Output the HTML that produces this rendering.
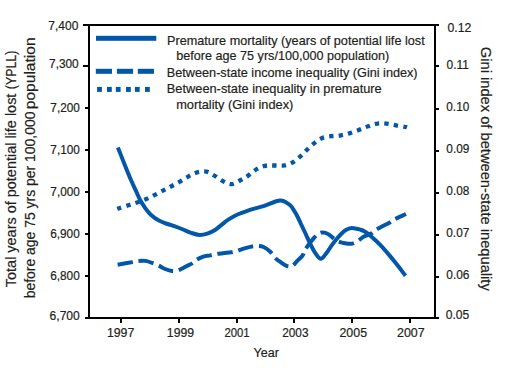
<!DOCTYPE html>
<html><head><meta charset="utf-8"><style>
html,body{margin:0;padding:0;background:#fff;width:515px;height:371px;overflow:hidden}
svg{display:block}
text{font-family:"Liberation Sans",sans-serif;fill:#231f20;stroke:#231f20;stroke-width:0.2px}
</style></head><body>
<svg width="515" height="371" viewBox="0 0 515 371">
<g fill="#000">
<rect x="83" y="24" width="356" height="2"/>
<rect x="85" y="317" width="354" height="2"/>
<rect x="88" y="24" width="2" height="295"/>
<rect x="434" y="24" width="2" height="295"/>
<rect x="83" y="65" width="5" height="2"/>
<rect x="436" y="65" width="3" height="2"/>
<rect x="85" y="107" width="3" height="2"/>
<rect x="436" y="108" width="3" height="2"/>
<rect x="85" y="149" width="3" height="2"/>
<rect x="436" y="150" width="3" height="2"/>
<rect x="85" y="191" width="3" height="2"/>
<rect x="436" y="192" width="3" height="2"/>
<rect x="85" y="233" width="3" height="2"/>
<rect x="436" y="234" width="3" height="2"/>
<rect x="85" y="275" width="3" height="2"/>
<rect x="436" y="276" width="3" height="2"/>
<rect x="120" y="319" width="2" height="4"/>
<rect x="178" y="319" width="2" height="4"/>
<rect x="236" y="319" width="2" height="4"/>
<rect x="293" y="319" width="2" height="4"/>
<rect x="351" y="319" width="2" height="4"/>
<rect x="409" y="319" width="2" height="4"/>
</g>
<g fill="none" stroke="#0357a8" stroke-width="4" stroke-linecap="butt" stroke-linejoin="round">
<path d="M117.9,147.4 C119.0,150.1 122.0,158.0 124.2,163.4 C126.4,168.8 128.9,175.2 131.0,180.0 C133.1,184.8 135.0,188.7 136.5,192.0 C138.0,195.3 138.6,197.2 140.0,199.8 C141.4,202.4 143.3,205.3 144.9,207.6 C146.5,209.9 148.1,211.9 149.7,213.6 C151.3,215.3 153.0,216.6 154.6,217.8 C156.2,219.0 157.8,219.9 159.4,220.7 C161.0,221.5 162.7,222.2 164.3,222.8 C165.9,223.4 167.3,223.9 169.1,224.5 C170.9,225.1 172.7,225.6 175.0,226.4 C177.3,227.2 180.4,228.4 183.1,229.5 C185.8,230.6 188.5,232.0 191.2,232.9 C193.9,233.8 196.8,234.8 199.5,234.9 C202.2,235.0 204.7,234.4 207.3,233.6 C209.9,232.8 212.6,231.3 215.0,229.9 C217.4,228.5 219.3,226.6 221.5,224.9 C223.7,223.2 225.6,221.3 228.3,219.6 C231.0,217.9 234.2,216.0 237.5,214.5 C240.8,213.0 244.7,211.7 248.0,210.6 C251.3,209.5 254.1,208.8 257.2,207.9 C260.2,207.0 263.2,206.2 266.3,205.1 C269.4,204.0 273.1,202.2 275.5,201.5 C277.9,200.8 279.2,200.5 281.0,200.6 C282.8,200.7 284.3,201.4 286.0,202.3 C287.7,203.2 289.3,204.0 291.0,206.0 C292.7,208.0 294.8,211.7 296.4,214.5 C298.0,217.3 299.1,220.0 300.5,223.0 C301.9,226.0 303.4,229.1 305.0,232.5 C306.6,235.9 308.3,239.8 310.0,243.2 C311.7,246.5 313.2,250.0 315.0,252.6 C316.8,255.2 318.8,258.8 320.8,258.8 C322.8,258.8 325.1,254.6 326.9,252.4 C328.7,250.2 330.1,247.6 331.7,245.4 C333.3,243.2 335.0,240.9 336.6,239.0 C338.2,237.1 339.8,235.2 341.4,233.7 C343.0,232.2 344.5,230.8 346.3,229.8 C348.1,228.9 349.6,228.0 352.0,228.0 C354.4,228.0 358.4,229.1 360.6,229.7 C362.8,230.3 363.4,230.7 365.0,231.7 C366.6,232.7 367.9,233.5 370.4,235.7 C372.9,237.9 376.9,241.4 380.2,244.8 C383.5,248.2 387.1,252.5 390.1,256.1 C393.2,259.7 395.9,263.3 398.5,266.6 C401.1,269.9 404.3,274.2 405.5,275.7"/>
<path d="M117.6,264.7 C120.1,264.3 129.0,262.7 132.5,262.1 C136.0,261.5 136.2,261.1 138.4,260.9 C140.6,260.7 143.3,260.5 145.7,260.9 C148.1,261.3 150.6,262.4 152.7,263.2 C154.8,264.0 156.4,264.5 158.5,265.5 C160.6,266.5 162.8,268.1 165.1,269.0 C167.4,269.9 169.9,270.8 172.1,271.0 C174.3,271.2 176.0,270.9 178.3,270.2 C180.6,269.4 183.6,267.6 185.8,266.5 C188.0,265.4 189.9,264.7 191.7,263.6 C193.4,262.5 194.4,261.2 196.3,260.0 C198.2,258.8 201.0,257.4 203.3,256.6 C205.6,255.8 208.1,255.9 210.3,255.4 C212.5,254.9 214.4,254.3 216.7,253.9 C219.0,253.5 221.9,253.4 224.3,253.1 C226.7,252.8 229.1,252.6 231.3,252.2 C233.5,251.8 235.5,251.3 237.7,250.7 C239.9,250.0 242.2,249.0 244.5,248.3 C246.8,247.6 249.0,247.0 251.3,246.6 C253.6,246.2 256.1,245.9 258.1,246.0 C260.1,246.1 261.5,246.1 263.5,247.0 C265.5,247.9 268.4,249.9 270.3,251.7 C272.2,253.5 273.3,256.1 275.1,257.9 C276.9,259.7 279.4,261.3 281.2,262.6 C283.0,263.9 284.6,265.0 286.0,265.6 C287.4,266.2 288.4,266.5 289.5,266.5 C290.6,266.5 291.5,266.6 292.8,265.6 C294.1,264.6 295.9,262.3 297.5,260.6 C299.1,258.9 301.4,257.2 302.7,255.3 C304.0,253.4 303.5,252.1 305.4,249.2 C307.3,246.3 311.8,240.4 314.2,237.7 C316.6,235.0 318.1,233.8 319.8,233.0 C321.5,232.2 323.0,232.3 324.5,232.6 C326.0,232.9 327.5,233.7 329.0,234.6 C330.5,235.5 331.8,237.1 333.3,238.2 C334.8,239.3 336.1,240.4 338.0,241.2 C339.9,242.0 342.6,242.8 345.0,243.2 C347.4,243.6 350.1,244.0 352.2,243.6 C354.3,243.2 355.7,242.2 357.7,241.0 C359.7,239.8 361.8,237.7 364.0,236.5 C366.2,235.3 369.1,234.7 371.1,233.6 C373.2,232.5 373.2,231.5 376.3,229.7 C379.4,227.9 386.3,224.4 389.4,222.7 C392.5,220.9 391.9,220.6 394.7,219.2 C397.5,217.8 404.1,214.9 406.0,214.0" stroke-dasharray="15.4 5.8"/>
<path d="M117.2,208.7 C117.5,208.6 117.4,208.8 119.3,208.2 C121.2,207.6 125.4,206.2 128.4,205.3 C131.4,204.4 134.2,203.5 137.1,202.5 C140.0,201.5 142.9,200.5 145.9,199.2 C148.9,197.9 151.9,196.4 154.8,194.9 C157.7,193.4 160.6,191.9 163.4,190.4 C166.2,188.9 169.1,187.5 171.9,186.0 C174.7,184.5 177.6,183.0 180.4,181.4 C183.2,179.8 185.8,177.8 188.6,176.3 C191.4,174.8 194.2,173.2 197.2,172.4 C200.2,171.6 203.5,171.1 206.5,171.7 C209.5,172.3 212.2,174.4 215.0,176.0 C217.8,177.6 220.5,180.1 223.3,181.4 C226.2,182.8 229.2,184.3 232.1,184.1 C235.0,183.9 238.1,181.4 240.8,180.0 C243.5,178.6 245.8,177.2 248.4,175.4 C251.0,173.7 253.3,171.1 256.1,169.5 C258.9,167.9 261.9,166.5 265.0,165.8 C268.1,165.1 271.2,165.6 274.4,165.5 C277.6,165.4 280.9,166.0 284.0,165.5 C287.1,165.0 290.1,163.8 292.8,162.3 C295.5,160.8 297.9,158.5 300.3,156.4 C302.7,154.3 304.7,151.9 307.0,149.7 C309.3,147.5 311.8,145.0 314.3,143.1 C316.8,141.2 319.4,139.2 322.2,138.0 C325.0,136.8 328.3,136.6 331.4,136.2 C334.5,135.8 337.9,135.8 341.0,135.3 C344.1,134.8 347.1,134.0 350.2,133.1 C353.2,132.2 356.3,130.9 359.3,129.8 C362.3,128.7 365.1,127.3 368.1,126.3 C371.1,125.3 374.1,124.0 377.2,123.6 C380.2,123.1 383.3,123.3 386.4,123.6 C389.5,123.9 392.9,124.8 396.0,125.4 C399.1,126.0 403.3,126.7 405.1,127.0 C406.9,127.3 406.7,127.2 407.0,127.3" stroke-dasharray="4.4 5.12" stroke-width="4.3"/>
</g>
<g fill="#0357a8">
<rect x="96" y="35.8" width="60.3" height="5"/>
<rect x="95.8" y="68.8" width="16.2" height="5"/>
<rect x="116.9" y="68.8" width="16.2" height="5"/>
<rect x="137.8" y="68.8" width="16.2" height="5"/>
<rect x="97.1" y="86.9" width="4.8" height="5"/>
<rect x="107.0" y="86.9" width="4.8" height="5"/>
<rect x="115.8" y="86.9" width="4.8" height="5"/>
<rect x="126.0" y="86.9" width="4.8" height="5"/>
<rect x="134.9" y="86.9" width="4.8" height="5"/>
<rect x="145.0" y="86.9" width="4.8" height="5"/>
</g>
<g transform="translate(48.36,29.60)"><text id="L7,400" x="0.00" y="0" font-size="12.00" textLength="29.92" lengthAdjust="spacingAndGlyphs">7,400</text></g>
<g transform="translate(49.05,68.30)"><text id="L7,300" x="0.00" y="0" font-size="12.00" textLength="29.64" lengthAdjust="spacingAndGlyphs">7,300</text></g>
<g transform="translate(50.35,111.60)"><text id="L7,200" x="0.00" y="0" font-size="12.00" textLength="29.46" lengthAdjust="spacingAndGlyphs">7,200</text></g>
<g transform="translate(50.35,153.60)"><text id="L7,100" x="0.00" y="0" font-size="12.00" textLength="29.46" lengthAdjust="spacingAndGlyphs">7,100</text></g>
<g transform="translate(50.35,195.60)"><text id="L7,000" x="0.00" y="0" font-size="12.00" textLength="29.46" lengthAdjust="spacingAndGlyphs">7,000</text></g>
<g transform="translate(50.18,237.60)"><text id="L6,900" x="0.00" y="0" font-size="12.00" textLength="29.53" lengthAdjust="spacingAndGlyphs">6,900</text></g>
<g transform="translate(50.18,279.60)"><text id="L6,800" x="0.00" y="0" font-size="12.00" textLength="29.53" lengthAdjust="spacingAndGlyphs">6,800</text></g>
<g transform="translate(49.59,319.60)"><text id="L6,700" x="0.00" y="0" font-size="12.00" textLength="30.20" lengthAdjust="spacingAndGlyphs">6,700</text></g>
<g transform="translate(447.51,32.40)"><text id="R0.12" x="0.00" y="0" font-size="12.00" textLength="23.82" lengthAdjust="spacingAndGlyphs">0.12</text></g>
<g transform="translate(446.55,69.00)"><text id="R0.11" x="0.00" y="0" font-size="12.00" textLength="22.18" lengthAdjust="spacingAndGlyphs">0.11</text></g>
<g transform="translate(446.30,111.40)"><text id="R0.10" x="0.00" y="0" font-size="12.00" textLength="22.96" lengthAdjust="spacingAndGlyphs">0.10</text></g>
<g transform="translate(446.29,153.40)"><text id="R0.09" x="0.00" y="0" font-size="12.00" textLength="23.05" lengthAdjust="spacingAndGlyphs">0.09</text></g>
<g transform="translate(446.30,195.40)"><text id="R0.08" x="0.00" y="0" font-size="12.00" textLength="23.05" lengthAdjust="spacingAndGlyphs">0.08</text></g>
<g transform="translate(446.29,237.40)"><text id="R0.07" x="0.00" y="0" font-size="12.00" textLength="23.00" lengthAdjust="spacingAndGlyphs">0.07</text></g>
<g transform="translate(446.29,279.40)"><text id="R0.06" x="0.00" y="0" font-size="12.00" textLength="23.08" lengthAdjust="spacingAndGlyphs">0.06</text></g>
<g transform="translate(445.71,319.40)"><text id="R0.05" x="0.00" y="0" font-size="12.00" textLength="23.56" lengthAdjust="spacingAndGlyphs">0.05</text></g>
<g transform="translate(106.92,337.00)"><text id="Y1997" x="0.00" y="0" font-size="12.00" textLength="27.35" lengthAdjust="spacingAndGlyphs">1997</text></g>
<g transform="translate(166.85,337.00)"><text id="Y1999" x="0.00" y="0" font-size="12.00" textLength="27.22" lengthAdjust="spacingAndGlyphs">1999</text></g>
<g transform="translate(224.43,337.00)"><text id="Y2001" x="0.00" y="0" font-size="12.00" textLength="25.25" lengthAdjust="spacingAndGlyphs">2001</text></g>
<g transform="translate(282.16,337.00)"><text id="Y2003" x="0.00" y="0" font-size="12.00" textLength="26.34" lengthAdjust="spacingAndGlyphs">2003</text></g>
<g transform="translate(339.48,337.00)"><text id="Y2005" x="0.00" y="0" font-size="12.00" textLength="27.56" lengthAdjust="spacingAndGlyphs">2005</text></g>
<g transform="translate(396.99,337.00)"><text id="Y2007" x="0.00" y="0" font-size="12.00" textLength="27.69" lengthAdjust="spacingAndGlyphs">2007</text></g>
<g transform="translate(253.54,356.60)"><text id="Year" x="0.00" y="0" font-size="12.00" textLength="25.30" lengthAdjust="spacingAndGlyphs">Year</text></g>
<g transform="translate(166.99,44.90)"><text id="G1" x="0.00" y="0" font-size="12.70" textLength="257.69" lengthAdjust="spacingAndGlyphs">Premature mortality (years of potential life lost</text></g>
<g transform="translate(176.36,60.40)"><text id="G2" x="0.00" y="0" font-size="12.70" textLength="212.88" lengthAdjust="spacingAndGlyphs">before age 75 yrs/100,000 population)</text></g>
<g transform="translate(166.83,77.00)"><text id="G3" x="0.00" y="0" font-size="12.70" textLength="250.77" lengthAdjust="spacingAndGlyphs">Between-state income inequality (Gini index)</text></g>
<g transform="translate(166.81,92.70)"><text id="G4" x="0.00" y="0" font-size="12.70" textLength="214.89" lengthAdjust="spacingAndGlyphs">Between-state inequality in premature</text></g>
<g transform="translate(176.16,108.50)"><text id="G5" x="0.00" y="0" font-size="12.70" textLength="117.19" lengthAdjust="spacingAndGlyphs">mortality (Gini index)</text></g>
<g transform="translate(16.20,287.17) rotate(-90)"><text id="T1a" x="0.00" y="0" font-size="14.30" textLength="193.55" lengthAdjust="spacingAndGlyphs">Total years of potential life lost</text></g>
<g transform="translate(16.20,89.24) rotate(-90)"><text id="T1b" x="0.00" y="0" font-size="14.30" textLength="38.50" lengthAdjust="spacingAndGlyphs">(YPLL)</text></g>
<g transform="translate(35.00,298.26) rotate(-90)"><text id="T2a" x="0.00" y="0" font-size="14.30" textLength="186.70" lengthAdjust="spacingAndGlyphs">before age 75 yrs per 100,000</text></g>
<g transform="translate(35.00,109.17) rotate(-90)"><text id="T2b" x="0.00" y="0" font-size="14.30" textLength="71.74" lengthAdjust="spacingAndGlyphs">population</text></g>
<g transform="translate(481.00,46.85) rotate(90)"><text id="T3" x="0.00" y="0" font-size="14.30" textLength="243.94" lengthAdjust="spacingAndGlyphs">Gini index of between-state inequality</text></g>
</svg></body></html>
